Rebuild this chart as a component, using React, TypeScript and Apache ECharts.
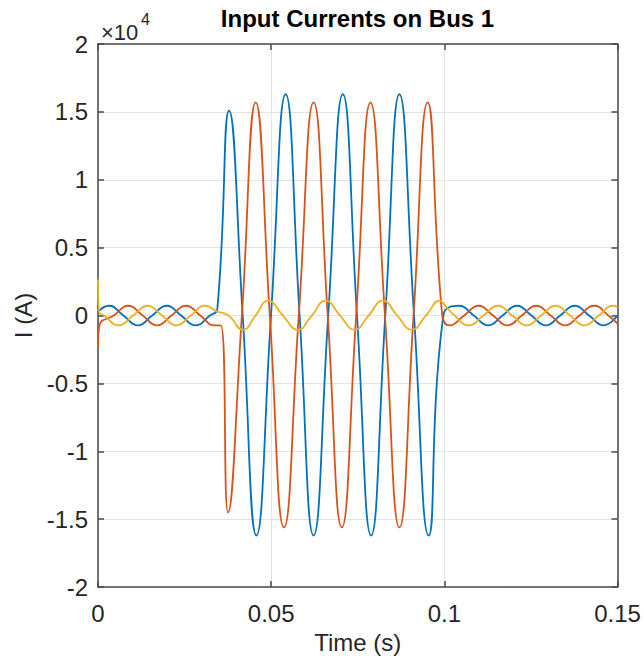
import React, { useEffect, useRef } from "react";
import * as echarts from "echarts";

// ---- Data (time in s, current in A) ----
const phaseA: [number, number][] = [
  [0, 265], [0.00317, 720], [0.00733, 0], [0.0115, -720], [0.01566, 0], [0.01983, 720],
  [0.02399, 0], [0.02816, -720], [0.03232, 0], [0.03444, 450],
  [0.03784, 15100], [0.04178, 0], [0.04573, -16200], [0.04995, 0], [0.05418, 16300],
  [0.05821, 0], [0.06225, -16200], [0.06647, 0], [0.07069, 16300], [0.07478, 0],
  [0.07886, -16200], [0.08295, 0], [0.08703, 16300], [0.09125, 0], [0.09548, -16200],
  [0.0997, 0], [0.10432, 720], [0.10849, 0], [0.11265, -720], [0.11682, 0], [0.12098, 720],
  [0.12514, 0], [0.12931, -720], [0.13347, 0], [0.13764, 720], [0.1418, 0], [0.14597, -720],
  [0.15, 0],
];

const phaseB: [number, number][] = [
  [0, -2350], [0.0004, -720], [0.00457, 0], [0.00873, 720], [0.0129, 0], [0.01706, -720],
  [0.02122, 0], [0.02539, 720], [0.02955, 0], [0.03372, -730], [0.03545, -730],
  [0.03755, -14500], [0.04154, 0], [0.04553, 15700], [0.04961, 0], [0.05369, -15600],
  [0.05797, 0], [0.06225, 15700], [0.06633, 0], [0.0704, -15600], [0.07454, 0],
  [0.07867, 15700], [0.08285, 0], [0.08703, -15600], [0.09111, 0], [0.09519, 15700],
  [0.0994, 0], [0.10156, -720], [0.10572, 0], [0.10988, 720], [0.11405, 0], [0.11821, -720],
  [0.12238, 0], [0.12654, 720], [0.13071, 0], [0.13487, -720], [0.13903, 0], [0.1432, 720],
  [0.14736, 0], [0.15, -600],
];

const phaseC: [number, number][] = [
  [0, 2650], [0.0003, 300], [0.0018, 0], [0.00597, -720], [0.01013, 0], [0.01429, 720],
  [0.01846, 0], [0.02262, -720], [0.02679, 0], [0.03095, 720], [0.03444, 300],
  [0.0377, 0], [0.04187, -1050], [0.04548, 0], [0.04908, 1100], [0.0534, 0],
  [0.05772, -1050], [0.06172, 0], [0.06571, 1100], [0.06989, 0], [0.07406, -1050],
  [0.07814, 0], [0.08222, 1100], [0.0864, 0], [0.09058, -1050], [0.09467, 0],
  [0.09876, 1100], [0.1, 800], [0.10295, 0], [0.10712, -720], [0.11128, 0], [0.11545, 720],
  [0.11961, 0], [0.12378, -720], [0.12794, 0], [0.1321, 720], [0.13627, 0], [0.14043, -720],
  [0.1446, 0], [0.14876, 720], [0.15, 640],
];

const xTicks = [0, 0.05, 0.1, 0.15];
const xTickLabels = ["0", "0.05", "0.1", "0.15"];
const yTicks = [-20000, -15000, -10000, -5000, 0, 5000, 10000, 15000, 20000];
const yTickLabels = ["-2", "-1.5", "-1", "-0.5", "0", "0.5", "1", "1.5", "2"];

const FONT = "Liberation Sans, Arial, Helvetica, sans-serif";
const TEXT = "#262626";
const AXIS = "#4a4a4a";

function nearestLabel(v: number, ticks: number[], labels: string[]) {
  let best = 0;
  for (let i = 1; i < ticks.length; i++) {
    if (Math.abs(ticks[i] - v) < Math.abs(ticks[best] - v)) best = i;
  }
  return labels[best];
}

export default function App() {
  const ref = useRef<HTMLDivElement>(null);
  useEffect(() => {
    if (!ref.current) return;
    const chart = echarts.init(ref.current, undefined, { renderer: "svg" });
    const axisCommon = {
      axisLine: { show: true, onZero: false, lineStyle: { color: AXIS, width: 1.5 } },
      axisTick: { show: true, inside: true, length: 6, lineStyle: { color: AXIS, width: 1.5 } },
    };
    const line = (name: string, data: [number, number][], color: string) => ({
      type: "line",
      name,
      data,
      smooth: 0.5,
      showSymbol: false,
      symbol: "none",
      lineStyle: { color, width: 1.8 },
      itemStyle: { color },
    });
    chart.setOption({
      animation: false,
      backgroundColor: "#ffffff",
      grid: { left: 98, top: 44, right: 26.5, bottom: 67, containLabel: false },
      xAxis: [
        {
          type: "value",
          min: 0,
          max: 0.15,
          interval: 0.05,
          position: "bottom",
          ...axisCommon,
          splitLine: { show: true, lineStyle: { color: "#e3e3e3", width: 1 } },
          axisLabel: {
            fontSize: 24,
            color: TEXT,
            fontFamily: FONT,
            margin: 14,
            formatter: (v: number) => nearestLabel(v, xTicks, xTickLabels),
          },
          name: "Time (s)",
          nameLocation: "middle",
          nameGap: 41,
          nameTextStyle: { fontSize: 24, color: TEXT, fontFamily: FONT },
        },
        {
          type: "value",
          min: 0,
          max: 0.15,
          interval: 0.05,
          position: "top",
          ...axisCommon,
          splitLine: { show: false },
          axisLabel: { show: false },
        },
      ],
      yAxis: [
        {
          type: "value",
          min: -20000,
          max: 20000,
          interval: 5000,
          position: "left",
          ...axisCommon,
          splitLine: { show: true, lineStyle: { color: "#e3e3e3", width: 1 } },
          axisLabel: {
            fontSize: 24,
            color: TEXT,
            fontFamily: FONT,
            margin: 10,
            formatter: (v: number) => nearestLabel(v, yTicks, yTickLabels),
          },
          name: "I (A)",
          nameLocation: "middle",
          nameGap: 59,
          nameRotate: 90,
          nameTextStyle: { fontSize: 24, color: TEXT, fontFamily: FONT },
        },
        {
          type: "value",
          min: -20000,
          max: 20000,
          interval: 5000,
          position: "right",
          ...axisCommon,
          splitLine: { show: false },
          axisLabel: { show: false },
        },
      ],
      graphic: [
        {
          type: "text",
          x: 357.5,
          y: 18,
          style: {
            text: "Input Currents on Bus 1",
            fontSize: 24,
            fontWeight: "bold",
            fontFamily: FONT,
            fill: "#000000",
            textAlign: "center",
            textVerticalAlign: "middle",
          },
        },
        {
          type: "text",
          x: 101,
          y: 32,
          style: {
            text: "×10",
            fontSize: 22,
            fontFamily: FONT,
            fill: TEXT,
            textAlign: "left",
            textVerticalAlign: "middle",
          },
        },
        {
          type: "text",
          x: 141,
          y: 19,
          style: {
            text: "4",
            fontSize: 16,
            fontFamily: FONT,
            fill: TEXT,
            textAlign: "left",
            textVerticalAlign: "middle",
          },
        },
      ],
      series: [
        line("Phase A", phaseA, "#0072BD"),
        line("Phase B", phaseB, "#D95319"),
        line("Phase C", phaseC, "#EDB120"),
      ],
    });
    return () => chart.dispose();
  }, []);
  return (
    <div
      ref={ref}
      style={{ position: "fixed", left: 0, top: 0, width: 644, height: 659, background: "#fff" }}
    />
  );
}
